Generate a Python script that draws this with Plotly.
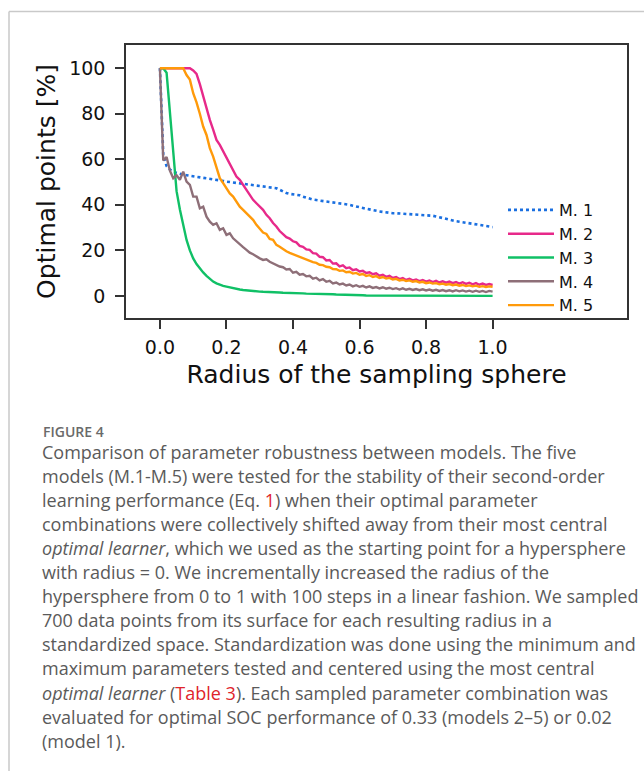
import plotly.graph_objects as go

W, H = 644, 771

radius = [i / 100 for i in range(101)]

m1 = [100, 62, 57, 55.5, 54.5, 54, 53.5, 53.2, 53, 52.8,
      52.6, 52.4, 52.2, 52, 51.7, 51.5, 51.2, 51, 50.7, 50.5,
      50.2, 50, 49.8, 49.6, 49.4, 49.2, 49, 48.8, 48.6, 48.4,
      48.3, 48.1, 47.9, 47.7, 47.5, 47.3, 46.6, 45.8, 45.2, 44.8,
      44.6, 44.4, 44.2, 43.6, 43.1, 42.6, 42.3, 42.1, 41.9, 41.7,
      41.6, 41.5, 41.3, 41.0, 40.7, 40.4, 40.2, 40.0, 39.6, 39.2,
      38.8, 38.5, 38.3, 38.0, 37.6, 37.3, 37.1, 36.9, 36.6, 36.4,
      36.3, 36.3, 36.2, 36.2, 36.1, 36.1, 36.0, 36.0, 35.9, 35.7,
      35.6, 35.4, 35.2, 34.9, 34.5, 34.1, 33.7, 33.4, 33.1, 32.8,
      32.6, 32.4, 32.2, 32.0, 31.8, 31.6, 31.3, 31.0, 30.8, 30.5,
      30.2]

m2 = [100, 100, 100, 100, 100, 100, 100, 100, 100, 100,
      99, 97.5, 93, 87.5, 81.7, 77.3, 73, 68.5, 66.3, 63.4,
      60.5, 57.5, 54.6, 52.4, 51, 48.8, 46.6, 44.4, 42.2, 40.7,
      39.2, 37.8, 35.6, 34.1, 32, 30.5, 28.5, 27.2, 25.8, 25.2,
      24.0, 23.5, 22.0, 21.6, 20.4, 20.2, 18.8, 18.6, 17.2, 17.0,
      15.6, 15.8, 14.2, 14.3, 13.0, 13.4, 12.2, 12.5, 11.3, 11.7,
      10.7, 11.0, 10.1, 10.4, 9.5, 9.9, 8.9, 9.3, 8.4, 8.8,
      7.9, 8.3, 7.4, 7.8, 7.0, 7.5, 6.8, 7.2, 6.5, 7.0,
      6.3, 6.8, 6.1, 6.6, 5.9, 6.4, 5.8, 6.3, 5.6, 6.1,
      5.4, 6.0, 5.3, 5.8, 5.1, 5.6, 4.9, 5.4, 4.8, 5.2,
      4.8]

m3 = [100, 100, 98, 80, 60, 46, 38, 30.5, 24.6, 20,
      16.5, 14, 12, 10.3, 8.8, 7.5, 6.3, 5.5, 4.8, 4.4,
      4.1, 3.7, 3.4, 3.1, 2.8, 2.6, 2.4, 2.2, 2.1, 2.0,
      1.9, 1.8, 1.8, 1.7, 1.6, 1.6, 1.5, 1.4, 1.4, 1.3,
      1.3, 1.2, 1.2, 1.1, 1.0, 1.0, 0.9, 0.9, 0.8, 0.8,
      0.7, 0.7, 0.7, 0.6, 0.6, 0.5, 0.5, 0.4, 0.4, 0.3,
      0.3, 0.3, 0.2, 0.2, 0.2, 0.2, 0.1, 0.2, 0.1, 0.1,
      0.1, 0.1, 0.1, 0.1, 0.1, 0.0, 0.1, 0.1, 0.0, 0.1,
      0.0, 0.0, 0.1, 0.0, 0.0, 0.0, 0.1, 0.0, 0.0, 0.0,
      0.0, 0.0, 0.0, 0.0, 0.0, 0.0, 0.0, 0.0, 0.0, 0.0,
      0.0]

m4 = [100, 59.5, 61, 55, 51.7, 53, 51, 54.6, 50.2, 48.8,
      43.6, 43.6, 38.5, 39.2, 34.8, 32.6, 31.2, 31.9, 29, 29.7,
      26.8, 27.5, 25.3, 23.9, 22.4, 21.4, 20.2, 19, 18.3, 17.3,
      16.5, 15.8, 16.1, 15.0, 14.3, 13.6, 12.9, 12.6, 11.6, 11.8,
      10.2, 10.6, 9.3, 9.6, 8.6, 8.8, 7.6, 8.0, 6.8, 7.4,
      6.2, 6.6, 5.5, 5.9, 5.0, 5.4, 4.6, 5.0, 4.2, 4.7,
      4.0, 4.4, 3.7, 4.2, 3.5, 3.9, 3.3, 3.8, 3.2, 3.6,
      3.0, 3.4, 2.8, 3.3, 2.7, 3.1, 2.6, 3.0, 2.5, 2.9,
      2.4, 2.8, 2.3, 2.7, 2.2, 2.6, 2.1, 2.5, 2.0, 2.5,
      2.0, 2.4, 1.9, 2.3, 1.8, 2.3, 1.8, 2.2, 1.7, 2.2,
      1.9]

m5 = [100, 100, 100, 100, 100, 100, 100, 100, 97, 95,
      89, 85, 80, 74.4, 70.7, 64.9, 61.2, 56.8, 51.7, 49.5,
      47.3, 45, 43.6, 41.4, 39.2, 37.8, 36.3, 34.8, 33.4, 31.2,
      29.7, 27.8, 27.2, 25.0, 24.6, 22.4, 21.6, 20.5, 19.6, 18.9,
      18.3, 17.8, 17.1, 16.6, 16.0, 15.6, 14.8, 14.5, 13.7, 13.5,
      12.8, 12.6, 11.8, 11.7, 11.0, 11.2, 10.4, 10.6, 9.8, 10.1,
      9.3, 9.6, 8.8, 9.1, 8.3, 8.7, 7.9, 8.3, 7.6, 7.9,
      7.2, 7.5, 6.8, 7.1, 6.5, 6.8, 6.2, 6.5, 5.9, 6.2,
      5.6, 5.9, 5.4, 5.6, 5.1, 5.4, 4.9, 5.2, 4.7, 5.0,
      4.5, 4.8, 4.3, 4.6, 4.2, 4.5, 4.0, 4.3, 3.9, 4.2,
      4.0]

series_names = ["M. 1", "M. 2", "M. 3", "M. 4", "M. 5"]
series_values = [m1, m2, m3, m4, m5]
series_colors = ["#1a6fe0", "#e7298a", "#10c066", "#8e6f78", "#ff9a0a"]
series_dash = ["dot", "solid", "solid", "solid", "solid"]

x_ticks = [0.0, 0.2, 0.4, 0.6, 0.8, 1.0]
x_tick_labels = ["0.0", "0.2", "0.4", "0.6", "0.8", "1.0"]
y_ticks = [0, 20, 40, 60, 80, 100]
y_tick_labels = ["0", "20", "40", "60", "80", "100"]

x_title = "Radius of the sampling sphere"
y_title = "Optimal points [%]"

figure_label = "FIGURE 4"
caption_lines = [
    "Comparison of parameter robustness between models. The five",
    "models (M.1-M.5) were tested for the stability of their second-order",
    "learning performance (Eq. <span style='color:#e0242b'>1</span>) when their optimal parameter",
    "combinations were collectively shifted away from their most central",
    "<i>optimal learner</i>, which we used as the starting point for a hypersphere",
    "with radius = 0. We incrementally increased the radius of the",
    "hypersphere from 0 to 1 with 100 steps in a linear fashion. We sampled",
    "700 data points from its surface for each resulting radius in a",
    "standardized space. Standardization was done using the minimum and",
    "maximum parameters tested and centered using the most central",
    "<i>optimal learner</i> (<span style='color:#e0242b'>Table 3</span>). Each sampled parameter combination was",
    "evaluated for optimal SOC performance of 0.33 (models 2\u20135) or 0.02",
    "(model 1).",
]

# plot box in pixels
box_l, box_r, box_t, box_b = 126, 627, 45, 318

def px(x):
    return x / W

def py(y):
    return 1 - y / H

fig = go.Figure()
for name, vals, col, dash in zip(series_names, series_values, series_colors, series_dash):
    fig.add_trace(go.Scatter(
        x=radius, y=vals, mode="lines", name=name,
        line=dict(color=col, width=2.6 if dash == "dot" else 2.4, dash=dash),
    ))

axis_font = dict(family="DejaVu Sans", size=19, color="#111111")
title_font = dict(family="DejaVu Sans", size=25, color="#111111")

fig.update_layout(
    template="none",
    width=W, height=H,
    margin=dict(l=0, r=0, t=0, b=0),
    paper_bgcolor="white", plot_bgcolor="white",
    showlegend=True,
    legend=dict(
        x=px(503), y=py(193), xanchor="left", yanchor="top",
        bgcolor="rgba(0,0,0,0)", borderwidth=0,
        font=dict(family="DejaVu Sans", size=16, color="#111111"),
        tracegroupgap=0, itemwidth=46,
    ),
    xaxis=dict(
        domain=[px(box_l), px(box_r)],
        range=[-0.102, 1.404],
        tickvals=x_ticks, ticktext=x_tick_labels,
        ticks="outside", ticklen=9, tickwidth=1.6, tickcolor="#333333",
        showline=True, linecolor="#333333", linewidth=1.6, mirror=True,
        showgrid=False, zeroline=False, automargin=False,
        tickfont=axis_font, ticklabelstandoff=2,
        title=dict(text=x_title, font=title_font, standoff=9),
    ),
    yaxis=dict(
        domain=[py(box_b), py(box_t)],
        range=[-9.7, 110.2],
        tickvals=y_ticks, ticktext=y_tick_labels,
        ticks="outside", ticklen=9, tickwidth=1.6, tickcolor="#333333",
        showline=True, linecolor="#333333", linewidth=1.6, mirror=True,
        showgrid=False, zeroline=False, automargin=False,
        tickfont=axis_font, ticklabelstandoff=6,
        title=dict(text=y_title, font=title_font, standoff=6),
    ),
)

# frame lines of the figure panel
fig.add_shape(type="line", xref="paper", yref="paper",
              x0=px(9), x1=px(W), y0=py(11.5), y1=py(11.5),
              line=dict(color="#c9c9c9", width=1.5))
fig.add_shape(type="line", xref="paper", yref="paper",
              x0=px(9), x1=px(9), y0=py(11.5), y1=py(H),
              line=dict(color="#c9c9c9", width=1.5))

fig.add_annotation(
    text=figure_label, xref="paper", yref="paper",
    x=px(41), y=py(431), xanchor="left", yanchor="middle", showarrow=False,
    font=dict(family="Open Sans", size=14, color="#6a6a6a", weight=600),
)
for k, line in enumerate(caption_lines):
    fig.add_annotation(
        text=line, xref="paper", yref="paper",
        x=px(40), y=py(452 + 24.05 * k), xanchor="left", yanchor="middle", showarrow=False,
        font=dict(family="Open Sans", size=18, color="#5a5a5a"),
    )

fig.write_html("out.html")
